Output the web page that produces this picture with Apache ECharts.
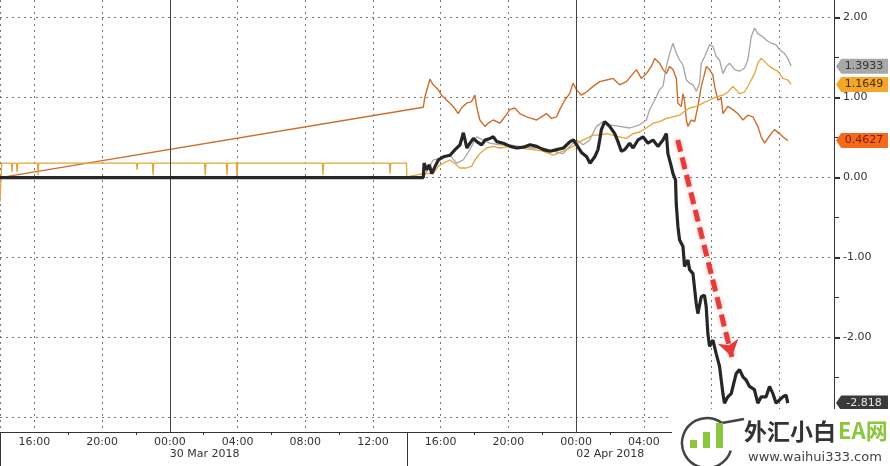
<!DOCTYPE html>
<html><head><meta charset="utf-8">
<script src="https://cdn.jsdelivr.net/npm/echarts@6/dist/echarts.min.js"></script>
<style>html,body{margin:0;padding:0;background:#fff}#c{width:890px;height:466px}</style>
</head><body><div id="c"></div>
<script>
// x values: trading hours from 16:00 (29 Mar 2018), weekend removed; y values: % change
const xMin = -2.03, xMax = 47.23;
const yMin = -3.18, yMax = 2.22;
const xTickHours = [0,4,8,12,16,20,24,28,32,36,40,44];
const xTickLabels = ['16:00','20:00','00:00','04:00','08:00','12:00','16:00','20:00','00:00','04:00','08:00','12:00'];
const xGridHours = [-2.03,0,4,8,12,16,20,24,28,32,36,40,44];
const xMinorTicks = [2,6,10,14,18,22,26,30,34,38,42,46];
const dateTickHours = [8, 32];
const dateLabels = ['30 Mar 2018', '02 Apr 2018'];
const sessionBreaks = [-2.03, 22];
const dayLines = [8, 32];
const yGridValues = [-3,-2,-1,0,1,2];
const yLabelValues = [-2,-1,0,1,2];
const yHalfTicks = [-2.5,-1.5,-0.5,0.5,1.5];

const brown = [[-2.03,0.0],[22.97,0.88],[23.07,1.01],[23.36,1.23],[23.56,1.16],[23.85,1.10],[24.05,1.03],[24.35,0.97],[24.74,0.89],[25.03,0.80],[25.23,0.87],[25.53,0.93],[25.82,0.95],[26.02,1.03],[26.12,0.89],[26.31,0.72],[26.61,0.64],[26.80,0.68],[27.10,0.72],[27.49,0.68],[27.79,0.76],[28.08,0.85],[28.38,0.87],[28.67,0.80],[29.07,0.76],[29.36,0.74],[29.66,0.72],[29.95,0.76],[30.25,0.80],[30.54,0.74],[30.84,0.76],[31.03,0.85],[31.33,0.97],[31.62,1.05],[31.82,1.18],[32.02,1.10],[32.31,1.03],[32.61,1.07],[33.00,1.14],[33.39,1.20],[33.79,1.22],[34.18,1.24],[34.57,1.16],[34.97,1.20],[35.36,1.30],[35.56,1.35],[35.85,1.24],[36.15,1.30],[36.44,1.39],[36.64,1.49],[36.93,1.43],[37.13,1.35],[37.33,1.30],[37.52,1.39],[37.72,1.35],[37.92,1.24],[38.01,0.93],[38.21,0.89],[38.31,1.05],[38.41,0.95],[38.51,0.72],[38.60,0.64],[38.80,0.72],[39.00,0.70],[39.19,0.89],[39.39,1.14],[39.59,1.30],[39.69,1.39],[39.88,1.35],[40.08,1.28],[40.18,1.14],[40.37,0.97],[40.57,0.99],[40.67,0.80],[40.96,0.89],[41.26,0.85],[41.55,0.80],[41.85,0.72],[42.14,0.78],[42.44,0.76],[42.73,0.64],[42.93,0.51],[43.13,0.43],[43.32,0.49],[43.52,0.55],[43.72,0.60],[44.01,0.55],[44.21,0.51],[44.50,0.4627]];

const gray = [[-2.03,0],[22.97,0],[23.56,0.22],[24.15,0.26],[24.54,0.28],[24.94,0.18],[25.33,0.22],[25.72,0.35],[26.12,0.51],[26.51,0.47],[26.90,0.43],[27.49,0.41],[28.08,0.41],[28.67,0.39],[29.46,0.37],[30.05,0.37],[30.64,0.33],[31.23,0.30],[31.62,0.39],[32.02,0.47],[32.41,0.41],[32.80,0.47],[33.20,0.64],[33.59,0.70],[33.98,0.66],[34.57,0.64],[35.16,0.62],[35.75,0.66],[36.15,0.72],[36.34,0.85],[36.54,0.93],[36.74,1.01],[36.93,1.10],[37.13,1.14],[37.33,1.39],[37.52,1.55],[37.72,1.68],[37.92,1.55],[38.11,1.47],[38.31,1.41],[38.51,1.22],[38.70,1.18],[38.90,1.16],[39.10,1.08],[39.29,1.18],[39.39,1.43],[39.59,1.51],[39.88,1.66],[40.08,1.64],[40.28,1.51],[40.47,1.47],[40.67,1.30],[40.87,1.39],[41.06,1.43],[41.36,1.35],[41.65,1.33],[41.95,1.37],[42.14,1.47],[42.34,1.76],[42.54,1.87],[42.73,1.80],[43.03,1.76],[43.22,1.72],[43.52,1.68],[43.81,1.66],[44.01,1.60],[44.31,1.55],[44.50,1.49],[44.70,1.3933]];

const yellow = [[-2.03,-0.30],[-1.93,0.18],[-1.36,0.18],[-1.32,0.07],[-1.28,0.18],[-1.06,0.18],[-1.02,0.07],[-0.98,0.18],[0.18,0.18],[0.22,0.03],[0.26,0.18],[6.03,0.18],[6.07,0.10],[6.11,0.18],[6.97,0.18],[7.01,0.03],[7.05,0.18],[10.05,0.18],[10.09,0.03],[10.13,0.18],[11.34,0.18],[11.38,0.03],[11.42,0.18],[11.93,0.18],[11.97,0.02],[12.01,0.18],[17.01,0.18],[17.05,0.03],[17.09,0.18],[20.97,0.18],[21.01,0.05],[21.05,0.18],[21.98,0.18],[22.0,0.01],[22.97,0.05],[23.56,0.05],[23.85,0.14],[24.15,0.18],[24.54,0.22],[24.94,0.16],[25.13,0.12],[25.53,0.12],[25.82,0.14],[26.02,0.22],[26.31,0.30],[26.71,0.37],[27.10,0.39],[27.49,0.37],[28.08,0.39],[28.67,0.37],[29.46,0.35],[30.05,0.33],[30.64,0.28],[31.23,0.33],[31.82,0.39],[32.21,0.45],[32.61,0.49],[33.00,0.53],[33.39,0.53],[33.79,0.55],[34.18,0.53],[34.57,0.51],[34.97,0.49],[35.36,0.55],[35.75,0.57],[36.15,0.62],[36.54,0.68],[36.93,0.70],[37.33,0.74],[37.72,0.76],[38.11,0.78],[38.41,0.83],[38.70,0.87],[39.10,0.89],[39.49,0.93],[39.88,0.97],[40.28,1.01],[40.67,1.03],[40.96,1.07],[41.26,1.14],[41.65,1.05],[41.95,1.07],[42.24,1.18],[42.54,1.30],[42.73,1.43],[42.93,1.49],[43.13,1.45],[43.42,1.39],[43.72,1.35],[43.91,1.33],[44.21,1.24],[44.50,1.22],[44.70,1.1649]];

const black = [[-2.03,0],[22.97,0],[23.02,0.18],[23.17,0.10],[23.33,0.16],[23.47,0.05],[23.67,0.14],[23.86,0.22],[24.16,0.26],[24.55,0.28],[24.85,0.35],[25.14,0.41],[25.34,0.56],[25.44,0.47],[25.54,0.37],[25.73,0.43],[25.93,0.49],[26.13,0.45],[26.42,0.41],[26.62,0.47],[26.91,0.49],[27.11,0.51],[27.31,0.45],[27.70,0.43],[28.10,0.39],[28.49,0.37],[28.88,0.38],[29.28,0.41],[29.67,0.39],[30.06,0.35],[30.46,0.33],[30.85,0.35],[31.25,0.37],[31.64,0.45],[31.84,0.47],[32.03,0.41],[32.33,0.31],[32.62,0.26],[32.82,0.18],[33.10,0.26],[33.29,0.35],[33.39,0.47],[33.49,0.60],[33.69,0.70],[33.98,0.64],[34.28,0.55],[34.47,0.45],[34.67,0.33],[34.87,0.35],[35.16,0.43],[35.36,0.37],[35.65,0.47],[35.95,0.51],[36.24,0.43],[36.54,0.47],[36.83,0.39],[37.13,0.47],[37.33,0.55],[37.42,0.30],[37.62,0.14],[37.72,0.05],[37.87,-0.03],[37.91,-0.32],[38.01,-0.61],[38.11,-0.78],[38.31,-0.86],[38.40,-1.11],[38.60,-1.03],[38.70,-1.15],[38.90,-1.20],[39.09,-1.57],[39.19,-1.70],[39.39,-1.49],[39.58,-1.47],[39.68,-1.61],[39.78,-1.95],[39.88,-2.11],[40.08,-2.03],[40.27,-2.20],[40.47,-2.36],[40.67,-2.70],[40.76,-2.82],[40.96,-2.74],[41.16,-2.70],[41.45,-2.45],[41.65,-2.40],[41.85,-2.49],[42.04,-2.53],[42.24,-2.61],[42.53,-2.65],[42.73,-2.82],[42.93,-2.74],[43.22,-2.74],[43.42,-2.61],[43.62,-2.70],[43.81,-2.82],[44.01,-2.78],[44.21,-2.74],[44.40,-2.72],[44.50,-2.818]];

const tagTexts = ['0.4627','1.3933','1.1649','-2.818'];
const arrowFrom = [38.0, 0.47];
const arrowTo = [41.2, -2.24];

const TAG_PATH = 'path://M0,5 L5,0 L50,0 L50,10 L5,10 Z';
function tag(series, text, bg, fg) {
  const last = series[series.length - 1];
  return {
    silent: true,
    symbol: TAG_PATH, symbolSize: [52, 15], symbolOffset: [28, 0],
    itemStyle: { color: bg },
    label: { show: true, position: 'inside', offset: [2, 0], color: fg, fontSize: 11, fontFamily: 'DejaVu Sans', formatter: text },
    data: [{ coord: [xMax, last[1]] }]
  };
}
const dotted = { color: '#777', type: [2, 4], width: 1 };
const font = { color: '#333', fontSize: 11, fontFamily: 'DejaVu Sans' };

const chart = echarts.init(document.getElementById('c'));
chart.setOption({
  animation: false,
  backgroundColor: '#fff',
  grid: { left: 0, right: 56, top: 0, bottom: 34 },
  xAxis: [{
    type: 'value', min: xMin, max: xMax, position: 'bottom',
    axisLine: { show: true, onZero: false, lineStyle: { color: '#333', width: 1 } },
    axisTick: { show: true, customValues: xGridHours, length: 0, lineStyle: { color: '#333', width: 0 } },
    axisLabel: Object.assign({ customValues: xTickHours, margin: 5,
      formatter: v => { const i = xTickHours.indexOf(v); return i >= 0 ? xTickLabels[i] : ''; } }, font),
    splitLine: { show: true, lineStyle: dotted }
  }, {
    type: 'value', min: xMin, max: xMax, position: 'bottom',
    axisLine: { show: false, onZero: false },
    axisTick: { show: true, customValues: sessionBreaks, length: 34, lineStyle: { color: '#333' } },
    axisLabel: Object.assign({ show: true, customValues: dateTickHours, align: 'left', margin: 17,
      formatter: v => { const i = dateTickHours.indexOf(v); return i >= 0 ? dateLabels[i] : ''; } }, font),
    splitLine: { show: false }
  }, {
    type: 'value', min: xMin, max: xMax, position: 'bottom',
    axisLine: { show: false, onZero: false },
    axisTick: { show: true, customValues: xMinorTicks, length: 3, lineStyle: { color: '#333' } },
    axisLabel: { show: false },
    splitLine: { show: false }
  }],
  yAxis: [{
    type: 'value', position: 'right', min: yMin, max: yMax,
    axisLine: { show: true, onZero: false, lineStyle: { color: '#333', width: 1 } },
    axisTick: { show: true, customValues: yGridValues, length: 6, lineStyle: { color: '#333', width: 2 } },
    axisLabel: Object.assign({ customValues: yLabelValues, margin: 9, formatter: v => v.toFixed(2) }, font),
    splitLine: { show: true, lineStyle: dotted }
  }, {
    type: 'value', position: 'right', min: yMin, max: yMax,
    axisLine: { show: false, onZero: false },
    axisTick: { show: true, customValues: yHalfTicks, length: 5, lineStyle: { color: '#333' } },
    axisLabel: { show: false },
    splitLine: { show: false }
  }],
  series: [
    { name: 'brown', type: 'line', data: brown, showSymbol: false, z: 2,
      lineStyle: { color: '#cf6c2a', width: 1.4 },
      markLine: { silent: true, symbol: 'none', label: { show: false },
        lineStyle: { color: '#444', type: 'solid', width: 1 },
        data: dayLines.map(h => ({ xAxis: h })) },
      markPoint: tag(brown, tagTexts[0], '#f26a1c', '#8a1500') },
    { name: 'gray', type: 'line', data: gray, showSymbol: false, z: 3,
      lineStyle: { color: '#a5a5a5', width: 1.3 },
      markPoint: tag(gray, tagTexts[1], '#a8a8a8', '#333') },
    { name: 'yellow', type: 'line', data: yellow, showSymbol: false, z: 4,
      lineStyle: { color: '#e4a53a', width: 1.3 },
      markPoint: tag(yellow, tagTexts[2], '#f4a62a', '#4a2c00') },
    { name: 'black', type: 'line', data: black, showSymbol: false, z: 5,
      lineStyle: { color: '#262626', width: 3.2 },
      markPoint: tag(black, tagTexts[3], '#3a3a3a', '#e6e6e6'),
      markLine: { silent: true, symbol: ['none', 'arrow'], symbolSize: 16, label: { show: false },
        lineStyle: { color: '#e23c3c', width: 5, type: [12, 6], shadowBlur: 4, shadowColor: 'rgba(235,90,90,0.5)' },
        data: [[{ coord: arrowFrom }, { coord: arrowTo }]] } }
  ],
  graphic: [
    { type: 'rect', z: 100, shape: { x: 672, y: 409, width: 218, height: 57 }, style: { fill: '#fff' } },
    { type: 'arc', z: 101, shape: { cx: 707, cy: 443, r: 25, startAngle: 0.1 * Math.PI, endAngle: 1.7 * Math.PI }, style: { stroke: '#444', lineWidth: 2.5, fill: null } },
    { type: 'polyline', z: 101, shape: { points: [[722, 423], [744, 419]] }, style: { stroke: '#444', lineWidth: 2.5 } },
    { type: 'rect', z: 101, shape: { x: 690, y: 440, width: 7, height: 8 }, style: { fill: '#8cc63f' } },
    { type: 'rect', z: 101, shape: { x: 703, y: 432, width: 7, height: 16 }, style: { fill: '#8cc63f' } },
    { type: 'rect', z: 101, shape: { x: 716, y: 423, width: 7, height: 25 }, style: { fill: '#8cc63f' } },
    { type: 'text', z: 101, style: { text: '外汇小白', x: 744, y: 431, verticalAlign: 'middle', font: 'bold 23px "Noto Sans CJK SC"', fill: '#333' } },
    { type: 'text', z: 101, style: { text: 'EA网', x: 838, y: 431, verticalAlign: 'middle', font: 'bold 22px "Noto Sans CJK SC"', fill: '#8cc63f' } },
    { type: 'text', z: 101, style: { text: 'www.waihui333.com', x: 748, y: 458, verticalAlign: 'middle', font: '13px "DejaVu Sans"', fill: '#444' } }
  ]
});
</script></body></html>
